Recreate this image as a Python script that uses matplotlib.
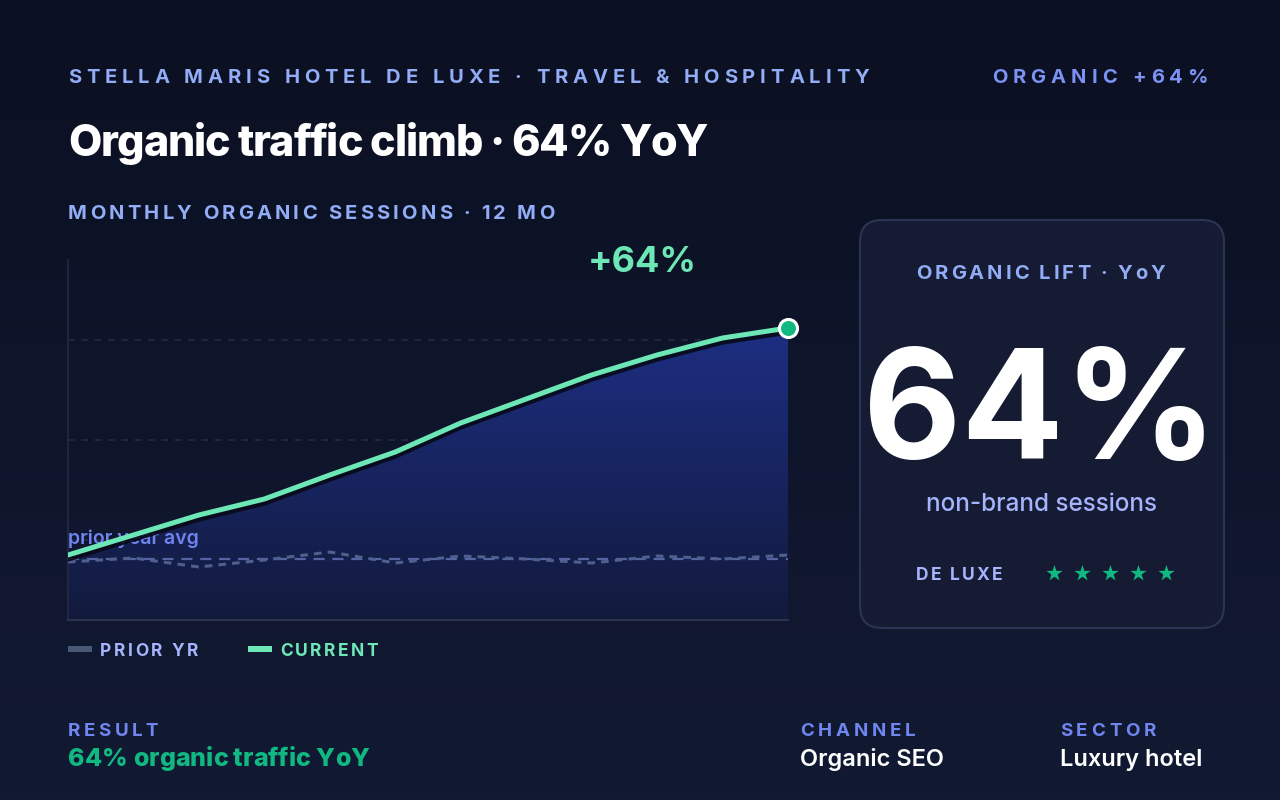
import numpy as np
import matplotlib
matplotlib.use("Agg")
import matplotlib.pyplot as plt
from matplotlib.patches import FancyBboxPatch, Rectangle
from matplotlib.colors import LinearSegmentedColormap
import matplotlib.patheffects as pe

plt.rcParams['font.family'] = ['Inter', 'DejaVu Sans']

# Datos (miles de sesiones orgánicas por mes)
months = ['Jan', 'Feb', 'Mar', 'Apr', 'May', 'Jun', 'Jul', 'Aug', 'Sep', 'Oct', 'Nov', 'Dec']
current = [11.55, 12.15, 12.75, 13.23, 13.95, 14.64, 15.51, 16.23, 16.95, 17.55, 18.06, 18.36]
prior = [11.34, 11.46, 11.19, 11.40, 11.64, 11.31, 11.52, 11.43, 11.31, 11.52, 11.43, 11.55]
grid_levels = [12, 15, 18]
lift_label = '+64%'

W, H = 1280, 800
fig = plt.figure(figsize=(W / 100, H / 100), dpi=100)

# fondo a pantalla completa, en pixeles
bg = fig.add_axes([0, 0, 1, 1])
bg.set_xlim(0, W)
bg.set_ylim(H, 0)
bg.axis('off')
grad = np.linspace(0, 1, 256).reshape(-1, 1)
bg_cmap = LinearSegmentedColormap.from_list('bg', ['#0b1022', '#121a33'])
bg.imshow(grad, extent=[0, W, H, 0], cmap=bg_cmap, aspect='auto', zorder=0)

renderer = fig.canvas.get_renderer()


def text_w(t, **kw):
    tt = bg.text(0, 0, t, **kw)
    w = tt.get_window_extent(renderer).width
    tt.remove()
    return w


def spaced(x, y, s, spacing, ha='left', **kw):
    # texto con espaciado entre letras
    ref = text_w('|', **kw)
    pos = [text_w(s[:i] + '|', **kw) - ref for i in range(len(s))]
    total = text_w(s, **kw) + spacing * (len(s) - 1)
    if ha == 'right':
        x = x - total
    elif ha == 'center':
        x = x - total / 2
    for i, ch in enumerate(s):
        if ch != ' ':
            bg.text(x + pos[i] + spacing * i, y, ch, ha='left', va='baseline', **kw)


# encabezado
spaced(68, 83, 'STELLA MARIS HOTEL DE LUXE · TRAVEL & HOSPITALITY', 4.9,
       fontsize=14.5, fontweight='bold', color='#93acf6')
spaced(1208, 83, 'ORGANIC +64%', 5.1, ha='right',
       fontsize=14.5, fontweight='bold', color='#7d92f5')
spaced(68, 156, 'Organic traffic climb · 64% YoY', -1.2, fontsize=31, fontweight=800,
       color='white')
spaced(68, 219, 'MONTHLY ORGANIC SESSIONS · 12 MO', 3.2,
       fontsize=14.5, fontweight='bold', color='#93acf6')

# tarjeta derecha
card = FancyBboxPatch((860, 220), 364, 408, boxstyle='round,pad=0,rounding_size=22',
                      facecolor='#151b33', edgecolor='#2b3452', linewidth=1.5, zorder=1)
bg.add_patch(card)
spaced(1041, 279, 'ORGANIC LIFT · YoY', 2.9, ha='center',
       fontsize=14.5, fontweight='bold', color='#93acf6', zorder=2)
bg.text(1040, 459, '64%', fontsize=109, fontweight='bold', color='white',
        ha='center', va='baseline', zorder=2)
bg.text(1042, 511, 'non-brand sessions', fontsize=17.5, fontweight='medium',
        color='#a5b4fc', ha='center', va='baseline', zorder=2)
spaced(916, 580, 'DE LUXE', 2.2, fontsize=12.5, fontweight='bold', color='#a5b4fc', zorder=2)
star_x = [1054, 1082, 1110, 1138, 1166]
bg.scatter(star_x, [573] * 5, marker='*', s=150, color='#10b981', linewidths=0, zorder=3)

# leyenda
bg.add_patch(Rectangle((68, 646), 24, 6, facecolor='#4a5878', edgecolor='none'))
spaced(100, 656, 'PRIOR YR', 2.5, fontsize=12.5, fontweight='bold', color='#a5b4fc')
bg.add_patch(Rectangle((248, 646), 24, 6, facecolor='#6ee7b7', edgecolor='none'))
spaced(280, 656, 'CURRENT', 2.4, fontsize=12.5, fontweight='bold', color='#6ee7b7')

# pie
spaced(68, 736, 'RESULT', 3.4, fontsize=13.5, fontweight='bold', color='#7185f0')
spaced(68, 766, '64% organic traffic YoY', 0, fontsize=18, fontweight=800, color='#10b981')
spaced(800, 736, 'CHANNEL', 3.8, fontsize=13.5, fontweight='bold', color='#7185f0')
bg.text(800, 766, 'Organic SEO', fontsize=17, fontweight='semibold', color='white', va='baseline')
spaced(1060, 736, 'SECTOR', 3.8, fontsize=13.5, fontweight='bold', color='#7185f0')
bg.text(1060, 766, 'Luxury hotel', fontsize=17, fontweight='semibold', color='white', va='baseline')

# grafico
ax = fig.add_axes([68 / W, (H - 620) / H, 720 / W, 360 / H])
ax.set_facecolor('none')
x = np.arange(len(months))
y0, y1 = 9.6, 20.4
ax.set_xlim(0, len(months) - 1)
ax.set_ylim(y0, y1)
ax.set_xticks([])
ax.set_yticks([])
for s in ['top', 'right']:
    ax.spines[s].set_visible(False)
ax.spines['left'].set_color('#222a44')
ax.spines['bottom'].set_color('#2a3350')
ax.spines['left'].set_linewidth(1.2)
ax.spines['bottom'].set_linewidth(1.5)

for g in grid_levels:
    ax.axhline(g, color='#222a45', lw=1.2, ls=(0, (4, 4)), zorder=1)

poly = ax.fill_between(x, current, y0, color='none')
fill_cmap = LinearSegmentedColormap.from_list('fill', ['#121a3c', '#1d2e82'])
im = ax.imshow(grad, extent=[0, len(months) - 1, y0, max(current)], cmap=fill_cmap,
               origin='lower', aspect='auto', zorder=2)
im.set_clip_path(poly.get_paths()[0], transform=ax.transData)

prior_avg = np.mean(prior)
ax.axhline(prior_avg, color='#5565a3', lw=1.6, ls=(0, (5, 3.5)), zorder=3)
ax.plot(x, prior, color='#4f5f8e', lw=2.2, ls=(0, (2.5, 2)), zorder=3)
ax.text(0, prior_avg + 0.45, 'prior year avg', fontsize=14, fontweight='semibold',
        color='#6f84f0', va='baseline', ha='left', zorder=4)

ax.plot(x, current, color='#6ee7b7', lw=3.6, solid_capstyle='round', zorder=5,
        path_effects=[pe.SimpleLineShadow(offset=(0, -3), shadow_color='#070a18', alpha=0.9),
                      pe.Normal()])
ax.plot(x[-1], current[-1], 'o', ms=13, markerfacecolor='#10b981', markeredgecolor='white',
        markeredgewidth=2.2, zorder=6, clip_on=False)

bg.text(642, 272, lift_label, fontsize=26, fontweight='bold', color='#6ee7b7',
        ha='center', va='baseline')

fig.savefig('out.png', dpi=100, facecolor=fig.get_facecolor())
